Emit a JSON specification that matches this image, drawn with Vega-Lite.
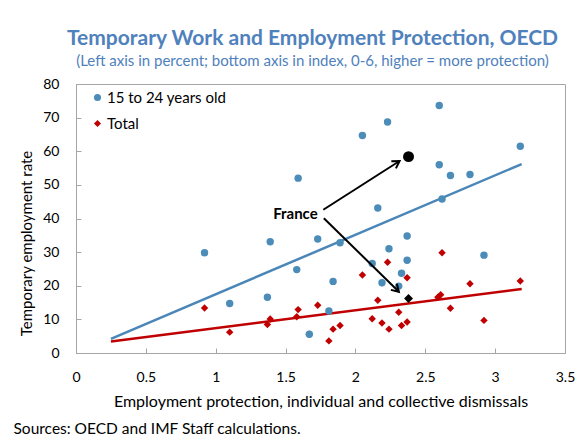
{
  "$schema": "https://vega.github.io/schema/vega-lite/v6.json",
  "width": 489,
  "height": 269,
  "autosize": {"type": "none"},
  "padding": {"left": 76, "top": 84, "right": 10, "bottom": 83},
  "background": "white",
  "view": {"stroke": "#a6a6a6", "strokeWidth": 1, "fill": "white"},
  "config": {
    "font": "Lato",
    "view": {"stroke": "#a6a6a6", "strokeWidth": 1},
    "axis": {"grid": false},
    "axisY": {
      "tickCount": 9,
      "tickSize": -5,
      "labelPadding": 22,
      "labelFontSize": 14,
      "labelFlush": false,
      "labelOverlap": false,
      "labelColor": "black",
      "titleFontSize": 15,
      "titleFontWeight": "normal",
      "titleColor": "black",
      "titleX": -50,
      "titleY": 159,
      "titleAngle": -90,
      "titleAlign": "center",
      "titleBaseline": "middle",
      "domainColor": "#a6a6a6",
      "tickColor": "#a6a6a6"
    },
    "legend": {"orient": "none", "legendX": 14, "legendY": 6, "labelFontSize": 15, "labelColor": "black", "rowPadding": 10, "symbolSize": 50, "labelOffset": 2, "padding": 0}
  },
  "title": {
    "text": "Temporary Work and Employment Protection, OECD",
    "subtitle": "(Left axis in percent; bottom axis in index, 0-6, higher = more protection)",
    "color": "#4f81bd",
    "subtitleColor": "#4f81bd",
    "fontSize": 21,
    "subtitleFontSize": 15,
    "fontWeight": "bold",
    "subtitleFontWeight": "normal",
    "anchor": "middle",
    "frame": "group",
    "dx": -8,
    "offset": 8,
    "subtitlePadding": 5
  },
  "datasets": {
    "pts": [
      {"epl": 0.92, "group": "Total", "rate": 13.4},
      {"epl": 1.10, "group": "Total", "rate": 6.2},
      {"epl": 1.37, "group": "Total", "rate": 8.5},
      {"epl": 1.39, "group": "Total", "rate": 10.1},
      {"epl": 1.58, "group": "Total", "rate": 10.8},
      {"epl": 1.59, "group": "Total", "rate": 12.9},
      {"epl": 1.67, "group": "Total", "rate": 5.6},
      {"epl": 1.73, "group": "Total", "rate": 14.2},
      {"epl": 1.81, "group": "Total", "rate": 3.6},
      {"epl": 1.84, "group": "Total", "rate": 7.1},
      {"epl": 1.89, "group": "Total", "rate": 8.2},
      {"epl": 2.05, "group": "Total", "rate": 23.2},
      {"epl": 2.12, "group": "Total", "rate": 10.2},
      {"epl": 2.16, "group": "Total", "rate": 15.7},
      {"epl": 2.19, "group": "Total", "rate": 8.9},
      {"epl": 2.23, "group": "Total", "rate": 27.0},
      {"epl": 2.24, "group": "Total", "rate": 7.1},
      {"epl": 2.31, "group": "Total", "rate": 12.1},
      {"epl": 2.33, "group": "Total", "rate": 8.2},
      {"epl": 2.37, "group": "Total", "rate": 22.4},
      {"epl": 2.37, "group": "Total", "rate": 9.2},
      {"epl": 2.59, "group": "Total", "rate": 16.6},
      {"epl": 2.61, "group": "Total", "rate": 17.3},
      {"epl": 2.62, "group": "Total", "rate": 29.8},
      {"epl": 2.68, "group": "Total", "rate": 13.3},
      {"epl": 2.82, "group": "Total", "rate": 20.6},
      {"epl": 2.92, "group": "Total", "rate": 9.7},
      {"epl": 3.18, "group": "Total", "rate": 21.4},
      {"epl": 0.92, "group": "15 to 24 years old", "rate": 29.8},
      {"epl": 1.10, "group": "15 to 24 years old", "rate": 14.7},
      {"epl": 1.37, "group": "15 to 24 years old", "rate": 16.6},
      {"epl": 1.39, "group": "15 to 24 years old", "rate": 33.1},
      {"epl": 1.58, "group": "15 to 24 years old", "rate": 24.8},
      {"epl": 1.59, "group": "15 to 24 years old", "rate": 52.0},
      {"epl": 1.67, "group": "15 to 24 years old", "rate": 5.6},
      {"epl": 1.73, "group": "15 to 24 years old", "rate": 33.9},
      {"epl": 1.81, "group": "15 to 24 years old", "rate": 12.5},
      {"epl": 1.84, "group": "15 to 24 years old", "rate": 21.3},
      {"epl": 1.89, "group": "15 to 24 years old", "rate": 32.8},
      {"epl": 2.05, "group": "15 to 24 years old", "rate": 64.7},
      {"epl": 2.12, "group": "15 to 24 years old", "rate": 26.6},
      {"epl": 2.16, "group": "15 to 24 years old", "rate": 43.1},
      {"epl": 2.19, "group": "15 to 24 years old", "rate": 20.9},
      {"epl": 2.23, "group": "15 to 24 years old", "rate": 68.7},
      {"epl": 2.24, "group": "15 to 24 years old", "rate": 31.0},
      {"epl": 2.31, "group": "15 to 24 years old", "rate": 19.9},
      {"epl": 2.33, "group": "15 to 24 years old", "rate": 23.7},
      {"epl": 2.37, "group": "15 to 24 years old", "rate": 34.8},
      {"epl": 2.37, "group": "15 to 24 years old", "rate": 27.6},
      {"epl": 2.60, "group": "15 to 24 years old", "rate": 73.6},
      {"epl": 2.60, "group": "15 to 24 years old", "rate": 56.0},
      {"epl": 2.62, "group": "15 to 24 years old", "rate": 45.8},
      {"epl": 2.68, "group": "15 to 24 years old", "rate": 52.8},
      {"epl": 2.82, "group": "15 to 24 years old", "rate": 53.1},
      {"epl": 2.92, "group": "15 to 24 years old", "rate": 29.1},
      {"epl": 3.18, "group": "15 to 24 years old", "rate": 61.5}
    ],
    "trend": [
      {"epl": 0.25, "group": "15 to 24 years old", "rate": 4.2},
      {"epl": 3.19, "group": "15 to 24 years old", "rate": 56.2},
      {"epl": 0.25, "group": "Total", "rate": 3.4},
      {"epl": 3.19, "group": "Total", "rate": 19.0}
    ],
    "france": [
      {"epl": 2.38, "group": "15 to 24 years old", "rate": 58.4},
      {"epl": 2.38, "group": "Total", "rate": 16.2}
    ],
    "arrows": [
      {"id": "youth", "epl": 1.77, "rate": 42.6, "epl2": 2.316, "rate2": 57.1},
      {"id": "total", "epl": 1.774, "rate": 40.1, "epl2": 2.311, "rate2": 18.2}
    ],
    "labels": [
      {"epl": 1.73, "rate": 41.4, "label": "France"}
    ]
  },
  "resolve": {"axis": {"x": "independent"}},
  "layer": [
    {
      "data": {"name": "trend"},
      "transform": [{"filter": "datum.group === '15 to 24 years old'"}],
      "mark": {"type": "line", "strokeWidth": 2.5, "color": "#4a86b8"},
      "encoding": {
        "x": {"field": "epl", "type": "quantitative", "axis": null},
        "y": {"field": "rate", "type": "quantitative", "axis": {"title": "Temporary employment rate", "values": [0, 10, 20, 30, 40, 50, 60, 70, 80]}}
      }
    },
    {
      "data": {"name": "trend"},
      "transform": [{"filter": "datum.group === 'Total'"}],
      "mark": {"type": "line", "strokeWidth": 2.5, "color": "#c00000"},
      "encoding": {
        "x": {"field": "epl", "type": "quantitative", "axis": null},
        "y": {"field": "rate", "type": "quantitative", "axis": {"title": "Temporary employment rate", "values": [0, 10, 20, 30, 40, 50, 60, 70, 80]}}
      }
    },
    {
      "data": {"name": "pts"},
      "mark": {"type": "point", "filled": true, "opacity": 1, "size": 55},
      "encoding": {
        "x": {
          "field": "epl", "type": "quantitative",
          "scale": {"domain": [0, 3.5], "nice": false},
          "axis": {
            "title": "Employment protection, individual and collective dismissals",
            "orient": "bottom",
            "values": [0, 0.5, 1, 1.5, 2, 2.5, 3, 3.5],
            "format": "~g",
            "tickSize": -5,
            "labelPadding": 22,
            "labelFontSize": 14,
            "labelFlush": false,
            "labelOverlap": false,
            "labelColor": "black",
            "titleFontSize": 16,
            "titleFontWeight": "normal",
            "titleColor": "black",
            "titleY": 48,
            "titleBaseline": "middle",
            "domainColor": "#a6a6a6",
            "tickColor": "#a6a6a6"
          }
        },
        "y": {
          "field": "rate", "type": "quantitative",
          "scale": {"domain": [0, 80], "nice": false},
          "axis": {"title": "Temporary employment rate", "values": [0, 10, 20, 30, 40, 50, 60, 70, 80]}
        },
        "color": {
          "field": "group", "type": "nominal",
          "scale": {"domain": ["15 to 24 years old", "Total"], "range": ["#4b8cb9", "#c00000"]},
          "legend": {"title": null}
        },
        "shape": {
          "field": "group", "type": "nominal",
          "scale": {"domain": ["15 to 24 years old", "Total"], "range": ["circle", "diamond"]},
          "legend": {"title": null}
        }
      }
    },
    {
      "data": {"name": "france"},
      "transform": [{"filter": "datum.group === '15 to 24 years old'"}],
      "mark": {"type": "point", "filled": true, "opacity": 1, "shape": "circle", "size": 120, "color": "black"},
      "encoding": {
        "x": {"field": "epl", "type": "quantitative", "axis": null},
        "y": {"field": "rate", "type": "quantitative", "axis": {"title": "Temporary employment rate", "values": [0, 10, 20, 30, 40, 50, 60, 70, 80]}}
      }
    },
    {
      "data": {"name": "france"},
      "transform": [{"filter": "datum.group === 'Total'"}],
      "mark": {"type": "point", "filled": true, "opacity": 1, "shape": "diamond", "size": 80, "color": "black"},
      "encoding": {
        "x": {"field": "epl", "type": "quantitative", "axis": null},
        "y": {"field": "rate", "type": "quantitative", "axis": {"title": "Temporary employment rate", "values": [0, 10, 20, 30, 40, 50, 60, 70, 80]}}
      }
    },
    {
      "data": {"name": "arrows"},
      "mark": {"type": "rule", "color": "black", "strokeWidth": 2},
      "encoding": {
        "x": {"field": "epl", "type": "quantitative", "axis": null},
        "y": {"field": "rate", "type": "quantitative", "axis": {"title": "Temporary employment rate", "values": [0, 10, 20, 30, 40, 50, 60, 70, 80]}},
        "x2": {"field": "epl2"},
        "y2": {"field": "rate2"}
      }
    },
    {
      "data": {"name": "arrows"},
      "transform": [{"filter": "datum.id === 'youth'"}],
      "mark": {"type": "point", "shape": "M-0.6,1L0,0L0.6,1", "filled": false, "stroke": "black", "strokeWidth": 2, "opacity": 1, "size": 200, "angle": 57.4},
      "encoding": {
        "x": {"field": "epl2", "type": "quantitative", "axis": null},
        "y": {"field": "rate2", "type": "quantitative", "axis": {"title": "Temporary employment rate", "values": [0, 10, 20, 30, 40, 50, 60, 70, 80]}}
      }
    },
    {
      "data": {"name": "arrows"},
      "transform": [{"filter": "datum.id === 'total'"}],
      "mark": {"type": "point", "shape": "M-0.6,1L0,0L0.6,1", "filled": false, "stroke": "black", "strokeWidth": 2, "opacity": 1, "size": 200, "angle": 134.3},
      "encoding": {
        "x": {"field": "epl2", "type": "quantitative", "axis": null},
        "y": {"field": "rate2", "type": "quantitative", "axis": {"title": "Temporary employment rate", "values": [0, 10, 20, 30, 40, 50, 60, 70, 80]}}
      }
    },
    {
      "data": {"name": "labels"},
      "mark": {"type": "text", "align": "right", "baseline": "middle", "fontWeight": "bold", "fontSize": 15, "color": "black"},
      "encoding": {
        "x": {
          "field": "epl", "type": "quantitative",
          "axis": {
            "title": "Sources: OECD and IMF Staff calculations.",
            "orient": "bottom",
            "labels": false, "ticks": false, "domain": false, "grid": false,
            "titleX": -63, "titleY": 75,
            "titleAlign": "left", "titleBaseline": "middle",
            "titleFontSize": 15.5, "titleFontWeight": "normal", "titleColor": "black"
          }
        },
        "y": {"field": "rate", "type": "quantitative", "axis": {"title": "Temporary employment rate", "values": [0, 10, 20, 30, 40, 50, 60, 70, 80]}},
        "text": {"field": "label"}
      }
    }
  ]
}
